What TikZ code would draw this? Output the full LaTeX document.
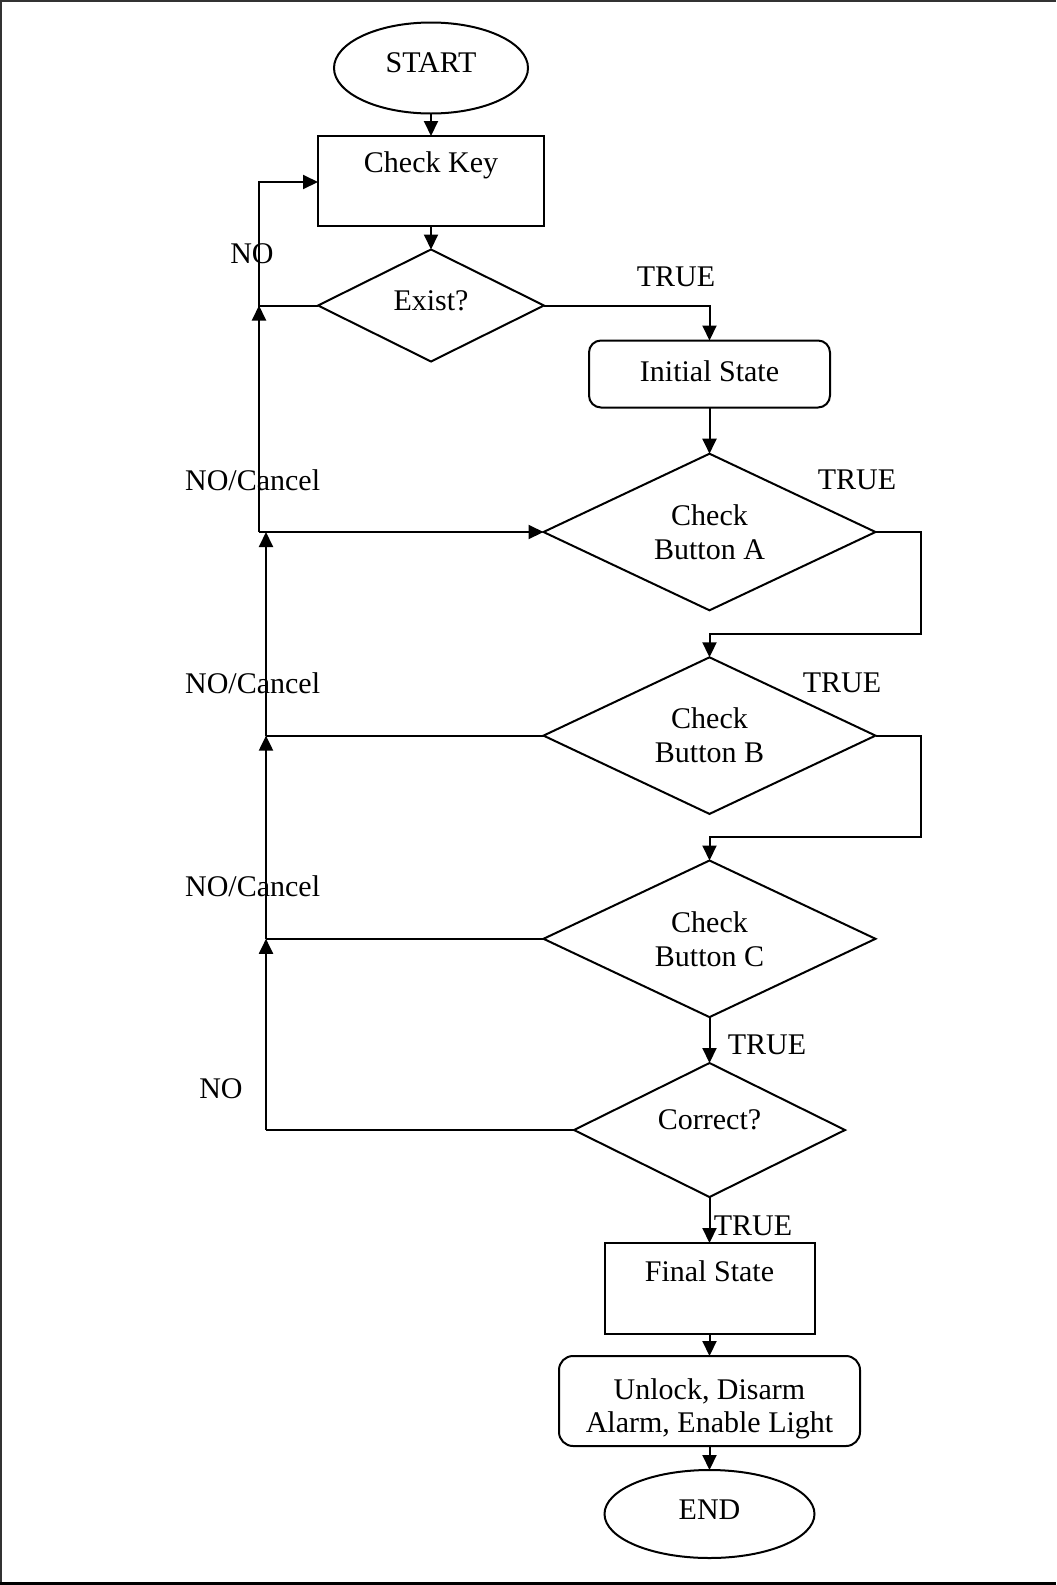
\documentclass[tikz,border=0pt]{standalone}
\usepackage{fontspec}
\setmainfont{Liberation Serif}
\usetikzlibrary{shapes.geometric,arrows.meta}
\begin{document}
\begin{tikzpicture}[x=0.5pt,y=-0.5pt,
  every node/.style={inner sep=0pt,outer sep=0pt},
  txt/.style={font=\fontsize{15}{17}\selectfont,align=center},
  box/.style={draw,line width=1pt,rectangle},
  rbox/.style={draw,line width=1pt,rectangle,rounded corners=6pt},
  oval/.style={draw,line width=1pt,ellipse},
  dia/.style={draw,line width=1pt,diamond,aspect=2},
  conn/.style={line width=1pt},
  arr/.style={line width=1pt,-{Triangle[length=7.5pt,width=7pt]}}]
\useasboundingbox (0,0) rectangle (1056,1585);
\draw[line width=0.6pt,black!80] (0,1) -- (1056,1);
\draw[line width=0.6pt,black!80] (1,0) -- (1,1585);
\draw[line width=1.2pt] (0,1583.5) -- (1056,1583.5);

% nodes
\node[oval,minimum width=97pt,minimum height=45.5pt] (start) at (431,68) {};
\node[txt] (tstart) at (431,63) {START};
\node[box,minimum width=113pt,minimum height=45pt] (key) at (431,181) {};
\node[txt] (tkey) at (431,165) {Check Key};
\node[dia,minimum width=113pt,minimum height=56pt] (exist) at (431,305.5) {};
\node[txt] (texist) at (431,301) {Exist?};
\node[rbox,minimum width=120.5pt,minimum height=33.5pt] (init) at (709.5,374) {};
\node[txt] (tinit) at (709.5,371) {Initial State};
\node[dia,minimum width=166pt,minimum height=78.3pt] (A) at (709.5,532) {};
\node[txt] (tA) at (709.5,532) {Check\\Button A};
\node[dia,minimum width=166pt,minimum height=78.3pt] (B) at (709.5,735.6) {};
\node[txt] (tB) at (709.5,735.6) {Check\\Button B};
\node[dia,minimum width=166pt,minimum height=78.3pt] (C) at (709.5,938.8) {};
\node[txt] (tC) at (709.5,938.8) {Check\\Button C};
\node[dia,minimum width=135.5pt,minimum height=67pt] (cor) at (709.5,1130) {};
\node[txt] (tcor) at (709.5,1120) {Correct?};
\node[box,minimum width=105pt,minimum height=45.5pt] (final) at (709.5,1288.5) {};
\node[txt] (tfinal) at (709.5,1271) {Final State};
\node[rbox,rounded corners=7pt,minimum width=150.5pt,minimum height=45pt] (unl) at (709.5,1401) {};
\node[txt,font=\fontsize{15}{16.5}\selectfont] (tunl) at (709.5,1408.5) {Unlock, Disarm\\Alarm, Enable Light};
\node[oval,minimum width=105pt,minimum height=44pt] (end) at (709.5,1514) {};
\node[txt] (tend) at (709.5,1510) {END};

% helper coordinates
\coordinate (kin) at (key.west |- 0,182);
\coordinate (nl1a) at (259,182);
\coordinate (nl1b) at (259,305.5);
\coordinate (nl1c) at (259,532);
\coordinate (nl2a) at (266,532);
\coordinate (nl2b) at (266,735.6);
\coordinate (nl2c) at (266,938.8);
\coordinate (nl2d) at (266,1130);
\coordinate (tr1) at (709.5,305.5);
\coordinate (ra1) at (920.5,532);
\coordinate (ra2) at (920.5,633.6);
\coordinate (ra3) at (709.5,633.6);
\coordinate (rb1) at (920.5,735.6);
\coordinate (rb2) at (920.5,836.7);
\coordinate (rb3) at (709.5,836.7);

% connectors
\draw[arr] (start) -- (key);
\draw[arr] (key) -- (exist.north);
\draw[arr] (exist.east) -- (tr1) -- (init.north);
\draw[arr] (init) -- (A.north);
\draw[arr] (exist.west) -- (nl1b) -- (nl1a) -- (kin);
\draw[arr] (nl1c) -- (nl1b);
\draw[arr] (nl1c) -- (A.west);
\draw[conn] (nl2a) -- (nl1c);
\draw[arr] (nl2b) -- (nl2a);
\draw[conn] (B.west) -- (nl2b);
\draw[arr] (nl2c) -- (nl2b);
\draw[conn] (C.west) -- (nl2c);
\draw[arr] (nl2d) -- (nl2c);
\draw[conn] (cor.west) -- (nl2d);
\draw[arr] (A.east) -- (ra1) -- (ra2) -- (ra3) -- (B.north);
\draw[arr] (B.east) -- (rb1) -- (rb2) -- (rb3) -- (C.north);
\draw[arr] (C.south) -- (cor.north);
\draw[arr] (cor.south) -- (final.north);
\draw[arr] (final) -- (unl);
\draw[arr] (unl) -- (end);

% labels
\node[txt] (lno1) at (252,254) {NO};
\node[txt] (ltr1) at (676,277) {TRUE};
\node[txt] (lnc1) at (252.6,480) {NO/Cancel};
\node[txt] (lnc2) at (252.6,683) {NO/Cancel};
\node[txt] (lnc3) at (252.6,886) {NO/Cancel};
\node[txt] (ltrA) at (857,480) {TRUE};
\node[txt] (ltrB) at (842,683) {TRUE};
\node[txt] (ltrC) at (767,1045) {TRUE};
\node[txt] (lno2) at (221,1089) {NO};
\node[txt] (ltrD) at (753,1226) {TRUE};
\end{tikzpicture}
\end{document}
